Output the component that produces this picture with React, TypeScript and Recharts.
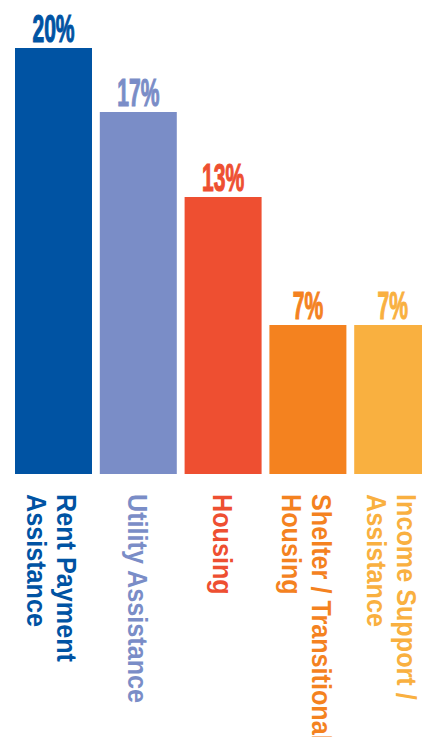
import { BarChart, Bar, XAxis, YAxis, Cell, LabelList } from 'recharts';

const categories = [
  'Rent Payment\nAssistance',
  'Utility Assistance',
  'Housing',
  'Shelter / Transitional\nHousing',
  'Income Support /\nAssistance',
];
const values = [20, 17, 13, 7, 7];
const colors = ['#0053A3', '#7A8DC7', '#EE4F31', '#F4821F', '#F9B040'];

const data = categories.map((name, i) => ({ name, value: values[i] }));

const ValueLabel = (props: any) => {
  const { x, y, width, value, index } = props;
  const cx = Number(x) + Number(width) / 2;
  return (
    <text
      transform={`translate(${cx},${Number(y) - 6}) scale(0.54,1)`}
      textAnchor="middle"
      fill={colors[index]}
      stroke={colors[index]}
      strokeWidth={1.2}
      fontFamily="'Liberation Sans', Arial, sans-serif"
      fontWeight="bold"
      fontSize={39}
    >
      {value}%
    </text>
  );
};

const CategoryTick = (props: any) => {
  const { x, y, payload, index } = props;
  const lines = String(payload.value).split('\n');
  const bx = x - 10 + (lines.length - 1) * 14;
  return (
    <g transform={`translate(${bx},${y + 20}) rotate(90) scale(0.9,1)`}>
      {lines.map((line, i) => (
        <text
          key={i}
          x={0}
          y={i * 30}
          fill={colors[index]}
          fontFamily="'Liberation Sans', Arial, sans-serif"
          fontWeight="bold"
          fontSize={28}
        >
          {line}
        </text>
      ))}
    </g>
  );
};

export default function App() {
  return (
    <div style={{ position: 'fixed', top: 0, left: 0, width: 422, height: 737, overflow: 'hidden', background: '#fff' }}>
      <BarChart
        width={440}
        height={737}
        data={data}
        margin={{ top: 48, right: 5, left: 11, bottom: 0 }}
      >
        <XAxis
          dataKey="name"
          height={263}
          axisLine={false}
          tickLine={false}
          tickSize={0}
          tickMargin={0}
          interval={0}
          tick={CategoryTick}
        />
        <YAxis hide domain={[0, 20]} />
        <Bar dataKey="value" barSize={77} isAnimationActive={false}>
          {data.map((d, i) => (
            <Cell key={d.name} fill={colors[i]} />
          ))}
          <LabelList dataKey="value" content={ValueLabel} />
        </Bar>
      </BarChart>
    </div>
  );
}
